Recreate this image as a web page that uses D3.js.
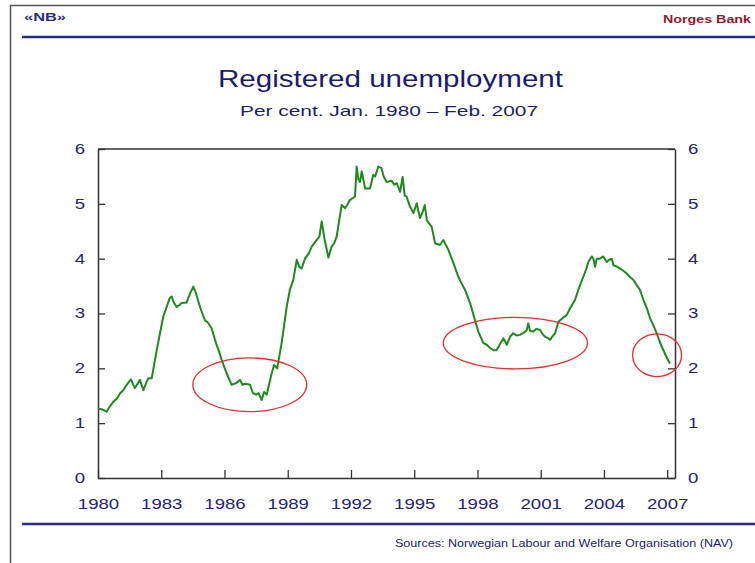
<!DOCTYPE html>
<html>
<head>
<meta charset="utf-8">
<script src="https://cdn.jsdelivr.net/npm/d3@7"></script>
<style>
    body { margin: 0; background: #fff; }
    text { font-family: "Liberation Sans", Arial, sans-serif; }
</style>
</head>
<body>
<div id="chart-area"></div>
<script>

// Registered unemployment, per cent, decimal years
var dates = [
    1980.00, 1980.20, 1980.41, 1980.55, 1980.73, 1980.90, 1981.04, 1981.20, 1981.36, 1981.56,
    1981.75, 1981.88, 1981.99, 1982.15, 1982.30, 1982.39, 1982.55, 1982.70, 1982.82, 1982.94,
    1983.10, 1983.26, 1983.40, 1983.49, 1983.60, 1983.73, 1983.85, 1983.97, 1984.20, 1984.35,
    1984.52, 1984.64, 1984.76, 1984.90, 1985.08, 1985.20, 1985.39, 1985.55, 1985.65, 1985.75,
    1985.87, 1986.10, 1986.34, 1986.55, 1986.74, 1986.85, 1987.00, 1987.21, 1987.35, 1987.50,
    1987.62, 1987.76, 1987.88, 1988.00, 1988.24, 1988.35, 1988.50, 1988.71, 1988.95, 1989.10,
    1989.26, 1989.43, 1989.55, 1989.66, 1989.82, 1990.00, 1990.14, 1990.37, 1990.50, 1990.61,
    1990.75, 1990.93, 1991.08, 1991.20, 1991.32, 1991.56, 1991.72, 1991.85, 1991.95, 1992.19,
    1992.27, 1992.35, 1992.43, 1992.51, 1992.67, 1992.90, 1993.06, 1993.15, 1993.30, 1993.45,
    1993.55, 1993.69, 1993.93, 1994.05, 1994.17, 1994.33, 1994.45, 1994.55, 1994.64, 1994.80,
    1994.96, 1995.12, 1995.27, 1995.40, 1995.50, 1995.60, 1995.83, 1995.99, 1996.22, 1996.38,
    1996.62, 1996.86, 1997.09, 1997.25, 1997.41, 1997.65, 1997.88, 1998.04, 1998.28, 1998.44,
    1998.60, 1998.75, 1998.90, 1999.08, 1999.23, 1999.39, 1999.55, 1999.70, 1999.85, 2000.02,
    2000.20, 2000.34, 2000.41, 2000.50, 2000.65, 2000.80, 2000.97, 2001.10, 2001.20, 2001.35,
    2001.44, 2001.55, 2001.68, 2001.84, 2002.05, 2002.23, 2002.39, 2002.63, 2002.80, 2003.02,
    2003.15, 2003.26, 2003.42, 2003.50, 2003.58, 2003.66, 2003.80, 2003.97, 2004.13, 2004.25,
    2004.37, 2004.45, 2004.60, 2004.76, 2004.92, 2005.08, 2005.25, 2005.40, 2005.55, 2005.71,
    2005.87, 2006.05, 2006.19, 2006.35, 2006.50, 2006.65, 2006.82, 2007.00, 2007.13
];

var unemployment = [
    1.27, 1.25, 1.21, 1.30, 1.39, 1.45, 1.54, 1.60, 1.70, 1.80,
    1.64, 1.72, 1.79, 1.60, 1.75, 1.82, 1.82, 2.15, 2.40, 2.64,
    2.95, 3.12, 3.28, 3.31, 3.20, 3.12, 3.15, 3.19, 3.20, 3.35,
    3.49, 3.38, 3.22, 3.05, 2.87, 2.84, 2.73, 2.52, 2.40, 2.30,
    2.15, 1.91, 1.70, 1.73, 1.79, 1.70, 1.72, 1.70, 1.55, 1.52,
    1.55, 1.42, 1.57, 1.52, 1.91, 2.06, 2.00, 2.46, 3.12, 3.43,
    3.61, 3.98, 3.85, 3.82, 4.00, 4.10, 4.22, 4.34, 4.40, 4.68,
    4.35, 4.02, 4.22, 4.28, 4.40, 4.98, 4.92, 5.00, 5.07, 5.13,
    5.68, 5.45, 5.40, 5.59, 5.28, 5.28, 5.53, 5.50, 5.68, 5.65,
    5.50, 5.40, 5.42, 5.35, 5.38, 5.22, 5.49, 5.15, 5.13, 4.95,
    4.83, 5.01, 4.74, 4.85, 4.98, 4.70, 4.58, 4.28, 4.25, 4.34,
    4.16, 3.92, 3.67, 3.55, 3.43, 3.19, 2.88, 2.67, 2.46, 2.43,
    2.37, 2.33, 2.33, 2.45, 2.55, 2.43, 2.58, 2.64, 2.60, 2.61,
    2.65, 2.70, 2.82, 2.68, 2.67, 2.72, 2.70, 2.62, 2.58, 2.55,
    2.52, 2.58, 2.64, 2.85, 2.92, 2.97, 3.09, 3.25, 3.45, 3.67,
    3.80, 3.94, 4.04, 4.00, 3.85, 4.00, 4.00, 4.04, 3.94, 3.98,
    4.00, 3.88, 3.86, 3.82, 3.78, 3.73, 3.66, 3.61, 3.52, 3.43,
    3.25, 3.08, 2.91, 2.78, 2.64, 2.48, 2.33, 2.18, 2.09
];

var yearTicks = [1980, 1983, 1986, 1989, 1992, 1995, 1998, 2001, 2004, 2007];
var valueTicks = [0, 1, 2, 3, 4, 5, 6];

// red rings drawn on the chart (centre and radii in data units)
var ringYears = [1987.2, 1999.8, 2006.52];
var ringValues = [1.70, 2.46, 2.24];
var ringYearRadius = [2.7, 3.42, 1.16];
var ringValueRadius = [0.49, 0.47, 0.39];


UnemploymentVis = function(_parentElement) {
    this.parentElement = _parentElement;
    this.displayData = [];

    this.initVis();
};

// stretch text horizontally like the original slide
function stretch(selection, k) {
    selection.each(function() {
        var t = d3.select(this);
        var x = +t.attr("x") || 0,
            y = +t.attr("y") || 0;
        t.attr("x", 0).attr("y", 0)
            .attr("transform", "translate(" + x + "," + y + ") scale(" + k + ",1)");
    });
}

UnemploymentVis.prototype.initVis = function() {
    var vis = this;

    vis.width = 755;
    vis.height = 563;
    vis.plot = { left: 98, right: 675, top: 149, bottom: 478 };

    vis.svg = d3.select("#" + vis.parentElement).append("svg")
        .attr("width", vis.width)
        .attr("height", vis.height);

    // Slide frame and header
    vis.svg.append("path")
        .attr("d", "M10.5,563 V5.5 H755")
        .attr("fill", "none")
        .attr("stroke", "#555")
        .attr("stroke-width", 1.5);

    vis.svg.append("line")
        .attr("x1", 22).attr("x2", 755)
        .attr("y1", 37).attr("y2", 37)
        .attr("stroke", "#2b2b85")
        .attr("stroke-width", 2.5);

    vis.svg.append("line")
        .attr("x1", 22).attr("x2", 755)
        .attr("y1", 524).attr("y2", 524)
        .attr("stroke", "#2b2b85")
        .attr("stroke-width", 2.5);

    vis.svg.append("text")
        .attr("x", 24).attr("y", 21)
        .attr("textLength", 42)
        .attr("lengthAdjust", "spacingAndGlyphs")
        .attr("font-size", 11)
        .attr("font-weight", "bold")
        .attr("fill", "#2b2b85")
        .text("«NB»");

    vis.svg.append("text")
        .attr("x", 663).attr("y", 23)
        .attr("textLength", 88)
        .attr("lengthAdjust", "spacingAndGlyphs")
        .attr("font-size", 11)
        .attr("font-weight", "bold")
        .attr("fill", "#8c1d2e")
        .text("Norges Bank");

    // Titles
    vis.svg.append("text")
        .attr("x", 218).attr("y", 87)
        .attr("textLength", 345)
        .attr("lengthAdjust", "spacingAndGlyphs")
        .attr("font-size", 24)
        .attr("fill", "#1c1c6e")
        .text("Registered unemployment");

    vis.svg.append("text")
        .attr("x", 240).attr("y", 116)
        .attr("textLength", 298)
        .attr("lengthAdjust", "spacingAndGlyphs")
        .attr("font-size", 15)
        .attr("fill", "#1c1c6e")
        .text("Per cent. Jan. 1980 \u2013 Feb. 2007");

    vis.svg.append("text")
        .attr("x", 395).attr("y", 547)
        .attr("textLength", 338)
        .attr("lengthAdjust", "spacingAndGlyphs")
        .attr("font-size", 10)
        .attr("fill", "#1c1c6e")
        .text("Sources: Norwegian Labour and Welfare Organisation (NAV)");

    // Scales and axes
    vis.x = d3.scaleLinear()
        .domain([1980, 2007.37])
        .range([vis.plot.left, vis.plot.right]);

    vis.y = d3.scaleLinear()
        .domain([0, 6])
        .range([vis.plot.bottom, vis.plot.top]);

    vis.xAxis = d3.axisBottom(vis.x)
        .tickValues(yearTicks)
        .tickFormat(d3.format("d"))
        .tickSizeInner(-8)
        .tickSizeOuter(0)
        .tickPadding(21);

    vis.yAxisLeft = d3.axisLeft(vis.y)
        .tickValues(valueTicks)
        .tickFormat(d3.format("d"))
        .tickSizeInner(-7)
        .tickSizeOuter(0)
        .tickPadding(13);

    vis.yAxisRight = d3.axisRight(vis.y)
        .tickValues(valueTicks)
        .tickFormat(d3.format("d"))
        .tickSizeInner(-7)
        .tickSizeOuter(0)
        .tickPadding(13);

    vis.svg.append("g")
        .attr("class", "x-axis axis")
        .attr("transform", "translate(0," + vis.plot.bottom + ")");

    vis.svg.append("g")
        .attr("class", "y-axis-left axis")
        .attr("transform", "translate(" + vis.plot.left + ",0)");

    vis.svg.append("g")
        .attr("class", "y-axis-right axis")
        .attr("transform", "translate(" + vis.plot.right + ",0)");

    // top border of the plot box
    vis.svg.append("line")
        .attr("x1", vis.plot.left).attr("x2", vis.plot.right)
        .attr("y1", vis.plot.top).attr("y2", vis.plot.top)
        .attr("stroke", "#333")
        .attr("stroke-width", 1.5);

    vis.path = vis.svg.append("path")
        .attr("class", "line")
        .attr("fill", "none")
        .attr("stroke", "#1e8a1e")
        .attr("stroke-width", 2)
        .attr("stroke-linejoin", "round");

    vis.line = d3.line()
        .x(function(d) { return vis.x(d.year); })
        .y(function(d) { return vis.y(d.value); });

    vis.wrangleData();
};

UnemploymentVis.prototype.wrangleData = function() {
    var vis = this;

    vis.displayData = dates.map(function(d, i) {
        return { year: d, value: unemployment[i] };
    });

    vis.rings = ringYears.map(function(d, i) {
        return { year: d, value: ringValues[i], ry: ringYearRadius[i], rv: ringValueRadius[i] };
    });

    vis.updateVis();
};

UnemploymentVis.prototype.updateVis = function() {
    var vis = this;

    vis.path
        .datum(vis.displayData)
        .attr("d", vis.line);

    vis.svg.selectAll(".ring")
        .data(vis.rings)
        .enter().append("ellipse")
        .attr("class", "ring")
        .attr("cx", function(d) { return vis.x(d.year); })
        .attr("cy", function(d) { return vis.y(d.value); })
        .attr("rx", function(d) { return vis.x(d.year + d.ry) - vis.x(d.year); })
        .attr("ry", function(d) { return vis.y(d.value - d.rv) - vis.y(d.value); })
        .attr("fill", "none")
        .attr("stroke", "#ee2a2a")
        .attr("stroke-width", 1.3);

    // Axes
    [".x-axis", ".y-axis-left", ".y-axis-right"].forEach(function(cls, i) {
        var axis = [vis.xAxis, vis.yAxisLeft, vis.yAxisRight][i];
        var g = vis.svg.select(cls).call(axis);
        g.select(".domain").attr("stroke", "#333").attr("stroke-width", 1.5);
        g.selectAll(".tick line").attr("stroke", "#333").attr("stroke-width", 1.3);
        g.selectAll(".tick text")
            .attr("font-size", 14)
            .attr("font-family", "'Liberation Sans', Arial, sans-serif")
            .attr("fill", "#23237a")
            .call(stretch, 1.33);
    });
};

new UnemploymentVis("chart-area");

</script>
</body>
</html>
